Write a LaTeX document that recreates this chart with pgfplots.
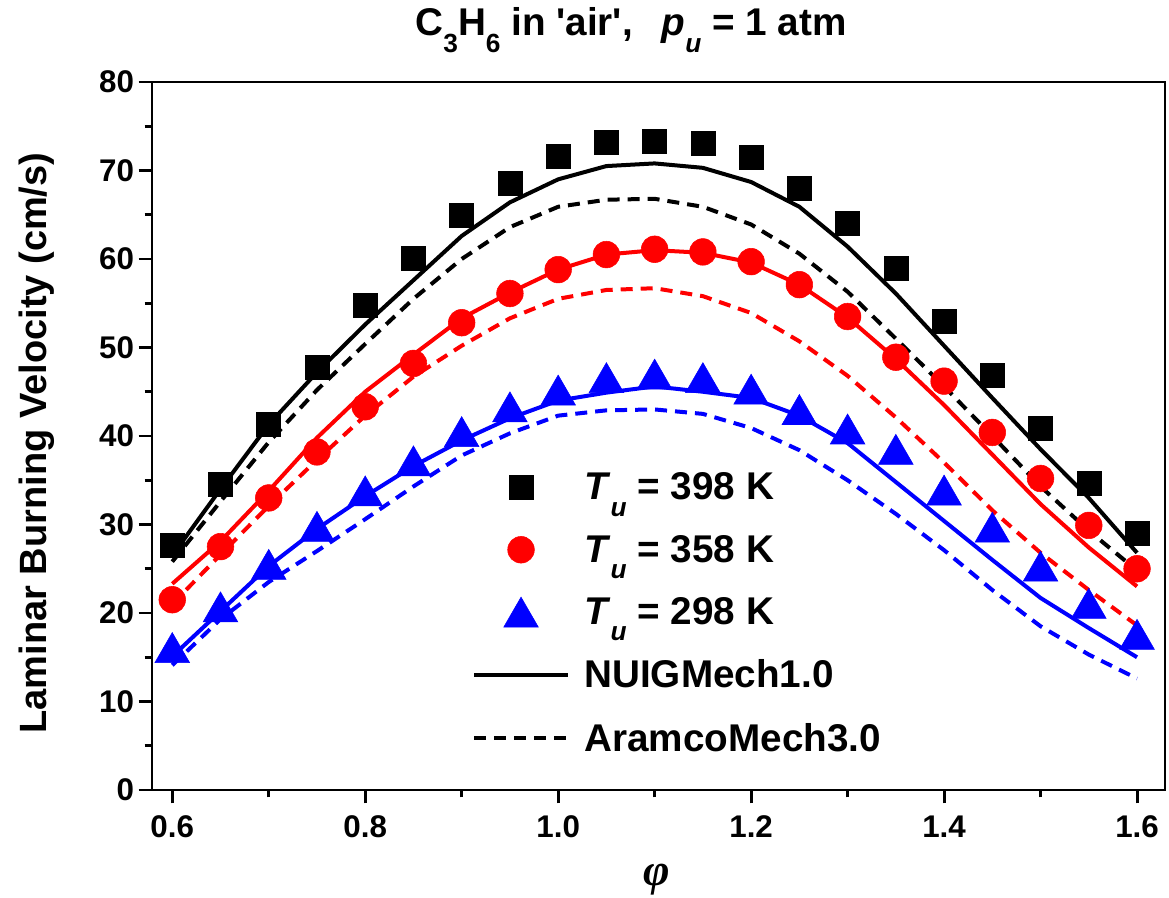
\documentclass[border=0pt]{standalone}
\usepackage{fontspec}
\setmainfont{Liberation Sans}[Ligatures=TeXOff]
\newfontfamily\serifgreek{Liberation Serif}
\usepackage{graphicx}
\usepackage{pgfplots}
\pgfplotsset{compat=1.18}
\newcommand{\sub}[1]{\raisebox{-0.42em}{\scalebox{0.68}{#1}}}
\begin{document}
\begin{tikzpicture}
\begin{axis}[
  name=ax,
  scale only axis, width=759.75pt, height=531pt,
  xmin=0.579, xmax=1.629, ymin=0, ymax=80,
  xtick={0.6,0.8,1.0,1.2,1.4,1.6}, minor xtick={0.7,0.9,1.1,1.3,1.5},
  ytick={0,10,...,80}, minor ytick={5,15,...,75},
  xtick pos=lower, ytick pos=lower, tick align=outside,
  major tick length=10pt, minor tick length=5.5pt,
  every tick/.style={black, line width=2.2pt},
  axis line style={line width=2.2pt},
  /pgf/number format/assume math mode=true,
  xticklabel style={yshift=-6pt, /pgf/number format/.cd, fixed, fixed zerofill, precision=1},
  yticklabel style={/pgf/number format/.cd, fixed, precision=0},
  tick label style={font=\bfseries\fontsize{23.5}{28}\selectfont},
  ylabel={Laminar Burning Velocity (cm/s)},
  ylabel style={at={(axis description cs:-0.1135,0.49)}, anchor=center, font=\bfseries\fontsize{28.5}{34}\selectfont},
  xlabel={φ},
  xlabel style={at={(axis description cs:0.4985,-0.1271)}, anchor=center, font=\serifgreek\bfseries\itshape\fontsize{34}{40}\selectfont},
  title={C\sub{3}H\sub{6} in 'air',\hspace{0.75em}\textit{p}\sub{\textit{u}} = 1 atm},
  title style={at={(axis description cs:0.4729,1.0537)}, anchor=base, font=\bfseries\fontsize{29}{34}\selectfont},
  legend style={draw=none, fill=none, at={(axis description cs:0.316,0.452)}, anchor=north west,
    font=\bfseries\fontsize{29}{35}\selectfont, row sep=21pt, inner sep=0pt,
    /tikz/every odd column/.append style={column sep=9pt}},
  legend cell align=left,
  legend image code/.code={\draw[mark repeat=2,mark phase=2,#1] plot coordinates {(0pt,0pt) (35pt,0pt) (70pt,0pt)};},
]
% Aramco 398 K
\addplot[black, line width=3pt, dash pattern=on 9pt off 6pt, forget plot] coordinates {
(0.6,25.8) (0.65,32.6) (0.7,39.3) (0.75,45.2) (0.8,50.4) (0.85,55.5) (0.9,60.0) (0.95,63.6) (1.0,65.9) (1.05,66.7) (1.1,66.8) (1.15,65.9) (1.2,63.9) (1.25,60.6) (1.3,56.3) (1.35,51.0) (1.4,45.6) (1.45,40.0) (1.5,34.3) (1.55,29.3) (1.6,24.8)};
% NUIG 398 K
\addplot[black, line width=3pt, forget plot] coordinates {
(0.6,26.5) (0.65,34.0) (0.7,41.3) (0.75,47.2) (0.8,52.6) (0.85,57.6) (0.9,62.6) (0.95,66.4) (1.0,69.0) (1.05,70.5) (1.1,70.8) (1.15,70.3) (1.2,68.7) (1.25,65.9) (1.3,61.4) (1.35,56.1) (1.4,50.2) (1.45,44.3) (1.5,38.5) (1.55,33.0) (1.6,26.8)};
% Aramco 358 K
\addplot[red, line width=3pt, dash pattern=on 9pt off 6pt, forget plot] coordinates {
(0.6,21.0) (0.65,26.6) (0.7,32.1) (0.75,37.3) (0.8,42.3) (0.85,46.7) (0.9,50.2) (0.95,53.3) (1.0,55.5) (1.05,56.5) (1.1,56.7) (1.15,55.8) (1.2,53.9) (1.25,50.7) (1.3,46.8) (1.35,42.1) (1.4,37.0) (1.45,31.6) (1.5,26.8) (1.55,22.6) (1.6,18.6)};
% NUIG 358 K
\addplot[red, line width=3pt, forget plot] coordinates {
(0.6,23.3) (0.65,28.1) (0.7,33.8) (0.75,39.8) (0.8,45.0) (0.85,49.2) (0.9,53.3) (0.95,56.2) (1.0,58.8) (1.05,60.5) (1.1,61.0) (1.15,60.7) (1.2,59.6) (1.25,57.1) (1.3,53.4) (1.35,48.7) (1.4,43.5) (1.45,37.9) (1.5,32.3) (1.55,27.4) (1.6,23.0)};
% Aramco 298 K
\addplot[blue, line width=3pt, dash pattern=on 9pt off 6pt, forget plot] coordinates {
(0.6,14.1) (0.65,19.3) (0.7,23.5) (0.75,27.0) (0.8,30.6) (0.85,34.3) (0.9,37.8) (0.95,40.3) (1.0,42.3) (1.05,42.9) (1.1,43.0) (1.15,42.5) (1.2,40.9) (1.25,38.4) (1.3,35.0) (1.35,31.2) (1.4,27.1) (1.45,22.6) (1.5,18.5) (1.55,15.3) (1.6,12.6)};
% NUIG 298 K
\addplot[blue, line width=3pt, forget plot] coordinates {
(0.6,15.1) (0.65,20.2) (0.7,25.3) (0.75,29.5) (0.8,33.2) (0.85,36.6) (0.9,39.5) (0.95,42.0) (1.0,44.0) (1.05,44.9) (1.1,45.6) (1.15,45.0) (1.2,44.3) (1.25,42.3) (1.3,39.2) (1.35,34.8) (1.4,30.4) (1.45,26.0) (1.5,21.7) (1.55,18.3) (1.6,15.0)};
% experiments
\addplot[only marks, mark=square*, mark size=9pt, black] coordinates {
(0.6,27.7) (0.65,34.5) (0.7,41.3) (0.75,47.8) (0.8,54.8) (0.85,60.1) (0.9,64.9) (0.95,68.6) (1.0,71.6) (1.05,73.2) (1.1,73.3) (1.15,73.1) (1.2,71.5) (1.25,68.0) (1.3,64.0) (1.35,59.0) (1.4,53.0) (1.45,46.9) (1.5,40.9) (1.55,34.7) (1.6,29.0)};
\addlegendentry{\textit{T}\sub{\textit{u}} = 398 K}
\addplot[only marks, mark=*, mark size=10pt, red] coordinates {
(0.6,21.5) (0.65,27.5) (0.7,33.0) (0.75,38.2) (0.8,43.3) (0.85,48.2) (0.9,52.8) (0.95,56.1) (1.0,58.8) (1.05,60.5) (1.1,61.1) (1.15,60.8) (1.2,59.7) (1.25,57.1) (1.3,53.5) (1.35,48.9) (1.4,46.2) (1.45,40.4) (1.5,35.2) (1.55,29.9) (1.6,25.0)};
\addlegendentry{\textit{T}\sub{\textit{u}} = 358 K}
\addplot[only marks, mark=triangle*, mark size=15pt, blue, mark options={yshift=-3.8pt}] coordinates {
(0.6,16.1) (0.65,20.7) (0.7,25.5) (0.75,29.8) (0.8,33.8) (0.85,37.2) (0.9,40.5) (0.95,43.3) (1.0,45.2) (1.05,46.6) (1.1,47.0) (1.15,46.6) (1.2,45.3) (1.25,43.0) (1.3,40.8) (1.35,38.5) (1.4,33.9) (1.45,29.7) (1.5,25.3) (1.55,21.1) (1.6,17.6)};
\addlegendentry{\textit{T}\sub{\textit{u}} = 298 K}
\addlegendimage{black, line width=3pt}
\addlegendentry{NUIGMech1.0}
\addlegendimage{black, line width=3pt, dash pattern=on 9pt off 6pt}
\addlegendentry{AramcoMech3.0}
\end{axis}
\pgfresetboundingbox
\path ([shift={(-114pt,-81pt)}]ax.south west) rectangle ([shift={(762.75pt,592.5pt)}]ax.south west);
\end{tikzpicture}
\end{document}
